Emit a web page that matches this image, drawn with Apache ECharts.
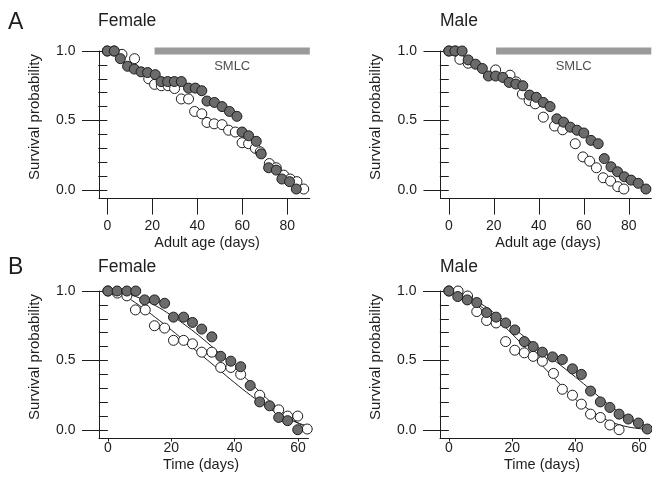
<!DOCTYPE html>
<html>
<head>
<meta charset="utf-8">
<script src="https://cdn.jsdelivr.net/npm/echarts@6/dist/echarts.min.js"></script>
<style>
  html, body { margin: 0; padding: 0; background: #fff; }
  #chart { width: 652px; height: 492px; }
</style>
</head>
<body>
<div id="chart"></div>
<script>
// ---- axis ticks ----
const adultAgeTicks = [0, 20, 40, 60, 80];
const timeTicks = [0, 20, 40, 60];
const probTicks = [0, 0.5, 1.0];
const probMinorTicks = [0, 0.1, 0.2, 0.3, 0.4, 0.5, 0.6, 0.7, 0.8, 0.9, 1.0];

// ---- SMLC period (adult age, days) ----
const smlcSpan = [21, 90];

// ---- A: survival vs adult age (days) ----
const femaleAgeOpen = [
  [0, 1.0], [3, 1.0], [6.5, 0.976], [12.1, 0.945], [18.4, 0.80], [21, 0.76], [24, 0.75],
  [27, 0.75], [29.9, 0.73], [32.9, 0.655], [36.1, 0.655], [38.8, 0.565], [42, 0.548],
  [44.3, 0.486], [47.5, 0.476], [51, 0.47], [53.9, 0.43], [56.9, 0.417], [59.9, 0.34],
  [62.8, 0.333], [65.8, 0.30], [68, 0.274], [72, 0.19], [75.1, 0.16], [78.4, 0.107],
  [81.3, 0.079], [84.3, 0.06], [87.3, 0.007]
];
const femaleAgeFilled = [
  [0, 1.0], [3.1, 1.0], [5.8, 0.945], [9, 0.89], [12, 0.87], [15, 0.85], [17.9, 0.845],
  [21.3, 0.83], [23.9, 0.78], [26.8, 0.78], [29.8, 0.78], [32.9, 0.78], [36.1, 0.733],
  [39.1, 0.733], [42, 0.714], [44.3, 0.64], [47.6, 0.63], [51, 0.60], [54.3, 0.565],
  [57.6, 0.53], [59.9, 0.417], [62.8, 0.39], [66.2, 0.35], [68.4, 0.26], [71.7, 0.16],
  [75.1, 0.143], [77.6, 0.079], [81, 0.06], [84, 0.007]
];
const maleAgeOpen = [
  [0, 1.0], [3, 1.0], [4.9, 0.94], [8.6, 0.912], [20.8, 0.864], [27.2, 0.826],
  [29.9, 0.778], [32.7, 0.69], [35.7, 0.643], [38.4, 0.62], [42, 0.524], [47, 0.46],
  [50.6, 0.433], [56.2, 0.333], [59.6, 0.238], [62.6, 0.207], [65.6, 0.16], [68.6, 0.088],
  [71.9, 0.064], [75.1, 0.024], [77.8, 0.007]
];
const maleAgeFilled = [
  [0, 1.0], [2.7, 1.0], [5.9, 1.0], [8.6, 0.936], [11.9, 0.905], [14.9, 0.874],
  [17.6, 0.82], [20.8, 0.82], [24, 0.81], [26.8, 0.774], [29.8, 0.762], [32.9, 0.75],
  [35.9, 0.683], [38.9, 0.667], [42, 0.63], [45, 0.60], [48, 0.512], [51, 0.488],
  [54, 0.452], [57, 0.43], [60, 0.41], [63.2, 0.357], [66.4, 0.333], [69.1, 0.226],
  [72.1, 0.167], [75, 0.131], [78, 0.095], [81, 0.071], [84.2, 0.048], [87.6, 0.007]
];

// ---- B: survival vs time (days) ----
const femaleTimeOpen = [
  [0, 1.0], [3, 0.985], [6, 0.965], [8.7, 0.864], [11.8, 0.864], [14.7, 0.75],
  [17.9, 0.733], [20.7, 0.645], [23.9, 0.645], [26.7, 0.62], [29.6, 0.56], [32.8, 0.56],
  [35.6, 0.45], [38.8, 0.45], [41.9, 0.40], [47.9, 0.25], [53.9, 0.145], [56.7, 0.10],
  [59.9, 0.10], [62.9, 0.007]
];
const femaleTimeFilled = [
  [0, 1.0], [2.9, 1.0], [6, 1.0], [8.8, 1.0], [11.6, 0.936], [14.7, 0.936], [17.9, 0.912],
  [20.7, 0.812], [23.9, 0.812], [26.7, 0.774], [29.6, 0.726], [32.8, 0.67], [35.6, 0.53],
  [38.8, 0.495], [41.9, 0.455], [44.9, 0.32], [47.9, 0.202], [51, 0.174], [53.9, 0.09],
  [56.7, 0.067], [59.9, 0.002]
];
const femaleTimeOpenFit = [
  [0, 1.0], [5, 0.965], [10, 0.895], [15, 0.81], [20, 0.72], [25, 0.625], [30, 0.53],
  [35, 0.435], [40, 0.34], [45, 0.25], [50, 0.17], [55, 0.10], [60, 0.05], [63, 0.03]
];
const femaleTimeFilledFit = [
  [0, 1.0], [5, 0.985], [10, 0.95], [15, 0.895], [20, 0.825], [25, 0.745], [30, 0.655],
  [35, 0.555], [40, 0.45], [45, 0.34], [50, 0.23], [55, 0.13], [60, 0.05], [63, 0.02]
];
const maleTimeOpen = [
  [0, 1.0], [2.9, 1.0], [5.9, 0.964], [8.8, 0.852], [11.9, 0.788], [14.9, 0.77],
  [17.9, 0.636], [20.8, 0.574], [23.8, 0.555], [26.6, 0.53], [29.5, 0.495], [33, 0.407],
  [35.8, 0.293], [39, 0.25], [41.8, 0.186], [44.7, 0.114], [47.8, 0.09], [50.8, 0.036],
  [53.7, 0.002]
];
const maleTimeFilled = [
  [0, 1.0], [2.8, 0.96], [5.8, 0.936], [8.8, 0.917], [11.9, 0.845], [14.9, 0.812],
  [17.9, 0.77], [20.8, 0.72], [23.8, 0.636], [26.6, 0.60], [29.5, 0.56], [32.7, 0.526],
  [35.8, 0.507], [39, 0.44], [41.8, 0.40], [44.7, 0.28], [47.8, 0.202], [50.8, 0.162],
  [53.7, 0.114], [56.6, 0.079], [59.8, 0.05], [62.6, 0.007]
];
const maleTimeOpenFit = [
  [0, 1.0], [5, 0.96], [10, 0.89], [15, 0.80], [20, 0.69], [25, 0.57], [30, 0.45],
  [35, 0.33], [40, 0.22], [45, 0.135], [50, 0.07], [55, 0.03], [60, 0.01], [63, 0.005]
];
const maleTimeFilledFit = [
  [0, 1.0], [5, 0.97], [10, 0.91], [15, 0.83], [20, 0.74], [25, 0.65], [30, 0.56],
  [35, 0.47], [40, 0.38], [45, 0.285], [50, 0.19], [55, 0.11], [60, 0.05], [63, 0.025]
];

// ---- styling ----
const FONT = "'Liberation Sans', Arial, Helvetica, sans-serif";
const INK = '#1e1e1e';
const FILL_GRAY = '#6b6b6b';
const BAR_GRAY = '#9a9a9a';

const PLOT_H = 147.6;
const Y_MIN = -0.062;

const panels = [
  { left: 99,    top: 51,  width: 210.8, xMin: -3.7, xMax: 90,   ticks: adultAgeTicks, tickLen: 16, labelGap: 21 },
  { left: 440.5, top: 51,  width: 210.8, xMin: -3.7, xMax: 90,   ticks: adultAgeTicks, tickLen: 16, labelGap: 21 },
  { left: 99,    top: 291, width: 209.5, xMin: -2.8, xMax: 63.3, ticks: timeTicks,     tickLen: 3,  labelGap: 3 },
  { left: 440,   top: 291, width: 209.5, xMin: -2.8, xMax: 63.3, ticks: timeTicks,     tickLen: 3,  labelGap: 3 }
];

const grids = [], xAxes = [], yAxes = [];
panels.forEach((p, i) => {
  grids.push({ left: p.left, top: p.top, width: p.width, height: PLOT_H, containLabel: false });
  xAxes.push({
    gridIndex: i, type: 'value', min: p.xMin, max: p.xMax,
    axisLine: { show: true, onZero: false, lineStyle: { color: INK, width: 1 } },
    axisTick: { show: true, length: p.tickLen, customValues: p.ticks, lineStyle: { color: INK, width: 1 } },
    axisLabel: { customValues: p.ticks, margin: p.labelGap, fontSize: 14, color: INK, fontFamily: FONT },
    splitLine: { show: false }
  });
  // major ticks + labels
  yAxes.push({
    gridIndex: i, type: 'value', min: Y_MIN, max: 1.0, position: 'left',
    axisLine: { show: true, onZero: false, lineStyle: { color: INK, width: 1 } },
    axisTick: { show: true, length: 17, customValues: probTicks, lineStyle: { color: INK, width: 1 } },
    axisLabel: { customValues: probTicks, margin: 23.5, fontSize: 14, color: INK, fontFamily: FONT,
                 formatter: v => v.toFixed(1) },
    splitLine: { show: false }
  });
  // minor ticks
  yAxes.push({
    gridIndex: i, type: 'value', min: Y_MIN, max: 1.0, position: 'left', offset: 0,
    axisLine: { show: false },
    axisTick: { show: true, length: 9, customValues: probMinorTicks, lineStyle: { color: INK, width: 1 } },
    axisLabel: { show: false },
    splitLine: { show: false }
  });
});

function dots(i, data, filled) {
  return {
    type: 'scatter', xAxisIndex: i, yAxisIndex: i * 2, data: data,
    symbol: 'circle', symbolSize: 10, clip: false, z: filled ? 4 : 3,
    itemStyle: { color: filled ? FILL_GRAY : '#ffffff', borderColor: INK, borderWidth: 1, opacity: 1 },
    emphasis: { disabled: true }
  };
}
function fit(i, data) {
  return {
    type: 'line', xAxisIndex: i, yAxisIndex: i * 2, data: data, smooth: 0.4,
    showSymbol: false, symbol: 'none', z: 2,
    lineStyle: { color: INK, width: 1 }
  };
}
function smlcBar(i) {
  return {
    type: 'line', xAxisIndex: i, yAxisIndex: i * 2, clip: false, z: 1,
    data: [[smlcSpan[0], 1.0], [smlcSpan[1], 1.0]],
    showSymbol: false, symbol: 'none',
    lineStyle: { color: BAR_GRAY, width: 7, cap: 'butt' }
  };
}
function smlcLabel(i) {
  return {
    type: 'scatter', xAxisIndex: i, yAxisIndex: i * 2, clip: false, z: 5,
    data: [[(smlcSpan[0] + smlcSpan[1]) / 2, 1.0]],
    symbolSize: 0, silent: true,
    label: { show: true, position: 'bottom', distance: 9, formatter: 'SMLC',
             fontSize: 13, color: INK, fontFamily: FONT }
  };
}

const series = [
  smlcBar(0), smlcLabel(0), dots(0, femaleAgeOpen, false), dots(0, femaleAgeFilled, true),
  smlcBar(1), smlcLabel(1), dots(1, maleAgeOpen, false), dots(1, maleAgeFilled, true),
  fit(2, femaleTimeOpenFit), fit(2, femaleTimeFilledFit),
  dots(2, femaleTimeOpen, false), dots(2, femaleTimeFilled, true),
  fit(3, maleTimeOpenFit), fit(3, maleTimeFilledFit),
  dots(3, maleTimeOpen, false), dots(3, maleTimeFilled, true)
];

function txt(x, y, text, size) {
  return {
    type: 'text', x: x, y: y, silent: true,
    style: { text: text, fill: INK, font: size + 'px ' + FONT,
             textAlign: 'left', textVerticalAlign: 'middle' }
  };
}
function centered(x, y, text, size, rotation) {
  return {
    type: 'text', x: x, y: y, rotation: rotation || 0, silent: true,
    style: { text: text, fill: INK, font: size + 'px ' + FONT,
             textAlign: 'center', textVerticalAlign: 'middle' }
  };
}

const graphic = [
  txt(8, 23, 'A', 23), txt(8, 268, 'B', 23),
  txt(98, 21, 'Female', 17.5), txt(440, 21, 'Male', 17.5),
  txt(98, 267, 'Female', 17.5), txt(440, 267, 'Male', 17.5),
  centered(35, 117, 'Survival probability', 15, Math.PI / 2),
  centered(376, 117, 'Survival probability', 15, Math.PI / 2),
  centered(35, 357, 'Survival probability', 15, Math.PI / 2),
  centered(376, 357, 'Survival probability', 15, Math.PI / 2),
  centered(207, 243, 'Adult age (days)', 14.5),
  centered(548, 243, 'Adult age (days)', 14.5),
  centered(201, 465, 'Time (days)', 14.5),
  centered(542, 465, 'Time (days)', 14.5)
];

const chart = echarts.init(document.getElementById('chart'), null, { renderer: 'canvas' });
chart.setOption({
  animation: false,
  backgroundColor: '#ffffff',
  grid: grids, xAxis: xAxes, yAxis: yAxes,
  series: series,
  graphic: graphic
});
</script>
</body>
</html>
